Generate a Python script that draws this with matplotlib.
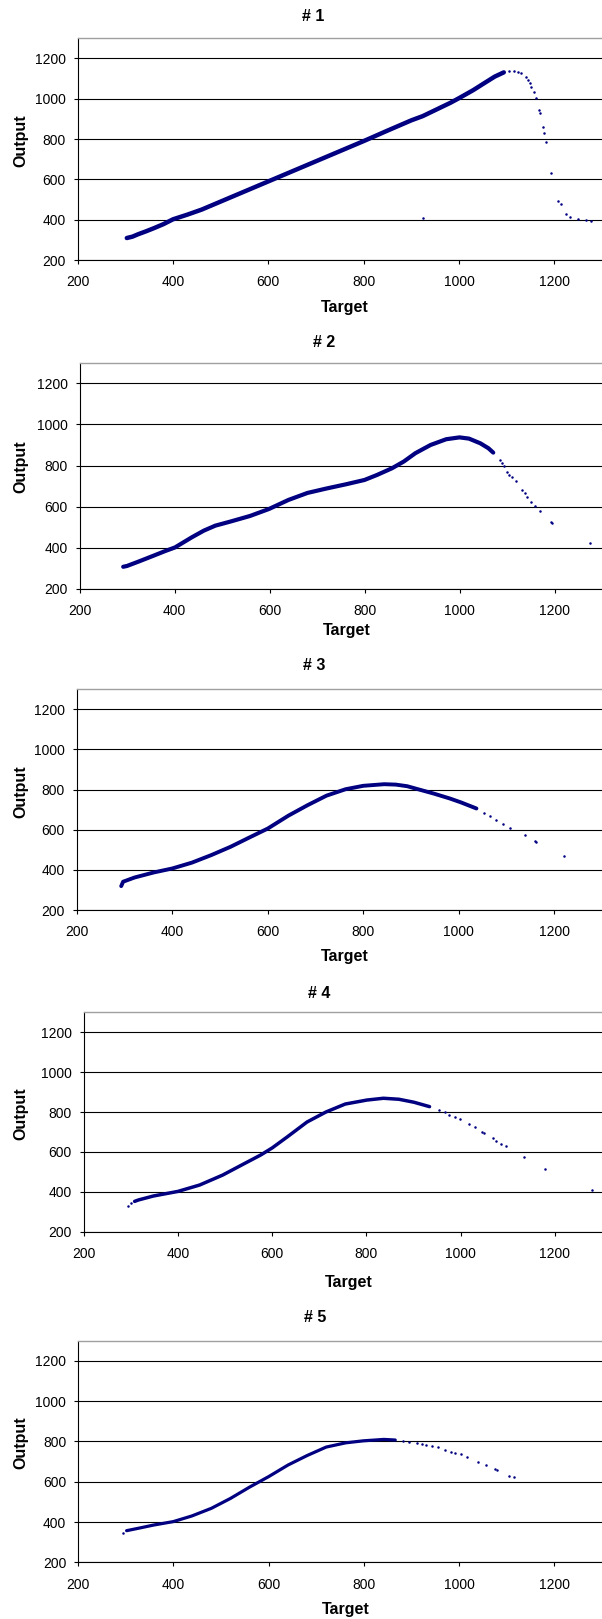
# Five "Target vs Output" scatter panels, Excel-style

import matplotlib
matplotlib.use("Agg")
import matplotlib.pyplot as plt

plt.rcParams['font.family'] = ['Liberation Sans', 'DejaVu Sans']

# --- DATA ---
# dense part of each curve
x1 = [303, 315, 327, 343, 360, 380, 400, 430, 460, 500, 550, 600, 650, 700, 750, 800, 850, 900, 924, 960, 982, 1000, 1030, 1052, 1075, 1094]
y1 = [309, 316, 328, 342, 358, 378, 402, 425, 450, 490, 540, 590, 640, 690, 740, 790, 842, 893, 914, 955, 980, 1003, 1043, 1076, 1110, 1131]
x2 = [292, 300, 324, 356, 381, 401, 437, 462, 486, 518, 559, 599, 640, 680, 721, 761, 800, 826, 858, 883, 907, 939, 972, 1000, 1020, 1044, 1061, 1071]
y2 = [308, 312, 333, 362, 385, 402, 452, 484, 508, 528, 555, 589, 633, 667, 689, 709, 730, 754, 787, 820, 860, 900, 928, 937, 931, 908, 884, 863]
x3 = [293, 297, 321, 361, 400, 441, 482, 522, 562, 600, 643, 683, 723, 763, 800, 844, 868, 892, 916, 948, 981, 1005, 1037]
y3 = [319, 341, 362, 387, 407, 436, 474, 515, 562, 606, 670, 722, 770, 802, 819, 827, 825, 817, 801, 780, 756, 736, 706]
x4 = [308, 316, 348, 400, 446, 495, 535, 576, 600, 633, 674, 714, 755, 801, 836, 869, 901, 934]
y4 = [352, 359, 379, 402, 434, 484, 534, 585, 620, 677, 750, 800, 840, 860, 869, 864, 849, 827]
x5 = [302, 327, 359, 400, 439, 480, 520, 560, 600, 641, 681, 721, 762, 799, 842, 866]
y5 = [357, 369, 385, 402, 430, 468, 517, 573, 625, 683, 730, 772, 793, 803, 810, 807]

# scattered single points
sx1 = [1105, 1115, 1124, 1131, 1140, 1145, 1149, 1151, 1157, 1161, 1168, 1170, 1177, 1179, 1182, 1192, 1208, 1213, 1224, 1232, 1249, 1267, 1277, 924]
sy1 = [1140, 1140, 1134, 1126, 1109, 1092, 1076, 1059, 1034, 1002, 944, 930, 858, 831, 783, 632, 493, 476, 430, 414, 402, 397, 394, 410]
sx2 = [1085, 1089, 1093, 1100, 1105, 1111, 1119, 1132, 1138, 1143, 1150, 1158, 1170, 1193, 1195, 1275]
sy2 = [827, 814, 800, 770, 754, 743, 727, 681, 665, 646, 625, 604, 579, 527, 522, 422]
sx3 = [1053, 1065, 1077, 1093, 1108, 1138, 1159, 1162, 1220]
sy3 = [681, 668, 651, 631, 610, 573, 543, 540, 469]
sx4 = [293, 301, 954, 966, 976, 987, 999, 1017, 1030, 1046, 1050, 1068, 1076, 1085, 1097, 1135, 1178, 1278]
sy4 = [330, 346, 810, 802, 787, 777, 764, 740, 727, 702, 693, 668, 655, 640, 630, 573, 513, 409]
sx5 = [294, 883, 895, 911, 923, 931, 943, 955, 971, 983, 991, 1003, 1016, 1040, 1056, 1076, 1080, 1104, 1115]
sy5 = [347, 802, 798, 790, 785, 782, 777, 770, 757, 749, 744, 737, 724, 699, 683, 661, 658, 628, 622]

titles = ['# 1', '# 2', '# 3', '# 4', '# 5']
xticks = [200, 400, 600, 800, 1000, 1200]
yticks = [200, 400, 600, 800, 1000, 1200]

# --- LAYOUT (pixels) ---
W, H = 602, 1619
NAVY = '#000080'
panels = [
    # left, top, bottom, title x, title baseline, xlabel x, xlabel baseline, ylabel y, line width
    (77.7, 38.3, 260.0, 313, 20.7, 345, 311.7, 140.5, 3.2),
    (79.5, 362.7, 589.0, 324, 347.0, 347, 634.7, 466.7, 3.0),
    (76.8, 689.3, 910.0, 314, 670.3, 345, 961.0, 791.7, 2.8),
    (83.7, 1012.3, 1231.7, 319, 997.6, 349, 1286.7, 1114.0, 2.5),
    (78.0, 1340.7, 1562.3, 315, 1322.0, 346, 1614.0, 1443.0, 2.3),
]
dense = [(x1, y1), (x2, y2), (x3, y3), (x4, y4), (x5, y5)]
sparse = [(sx1, sy1), (sx2, sy2), (sx3, sy3), (sx4, sy4), (sx5, sy5)]

fig = plt.figure(figsize=(W / 100, H / 100), dpi=100)

for i, (left, top, bottom, tx, ty, lx, ly, oy, lw) in enumerate(panels):
    ax = fig.add_axes([left / W, 1 - bottom / H, (W - left) / W, (bottom - top) / H])
    ax.set_xlim(200, 1300)
    ax.set_ylim(200, 1300)
    ax.set_xticks(xticks)
    ax.set_yticks(yticks)
    ax.yaxis.grid(True, color='black', linewidth=0.8)
    ax.set_axisbelow(True)

    dx, dy = dense[i]
    ax.plot(dx, dy, color=NAVY, linewidth=lw, solid_capstyle='round', solid_joinstyle='round')
    sx, sy = sparse[i]
    ax.plot(sx, sy, linestyle='none', marker='o', markersize=1.8, color=NAVY, markeredgewidth=0)

    for side in ['left', 'bottom']:
        ax.spines[side].set_color('black')
        ax.spines[side].set_linewidth(0.8)
    ax.spines['top'].set_color('#a0a0a0')
    ax.spines['top'].set_linewidth(1.0)
    ax.spines['right'].set_visible(False)

    ax.tick_params(axis='both', direction='out', length=3, width=0.8, labelsize=10, colors='black')
    ax.tick_params(axis='y', pad=5.5)
    ax.tick_params(axis='x', pad=8)

    fig.text(tx / W, 1 - ty / H, titles[i], ha='center', va='baseline', fontsize=11.5, fontweight='bold')
    fig.text(lx / W, 1 - ly / H, 'Target', ha='center', va='baseline', fontsize=11.5, fontweight='bold')
    fig.text(20.7 / W, 1 - oy / H, 'Output', ha='center', va='center', rotation=90, fontsize=11.5, fontweight='bold')

fig.savefig('out.png', dpi=100)
